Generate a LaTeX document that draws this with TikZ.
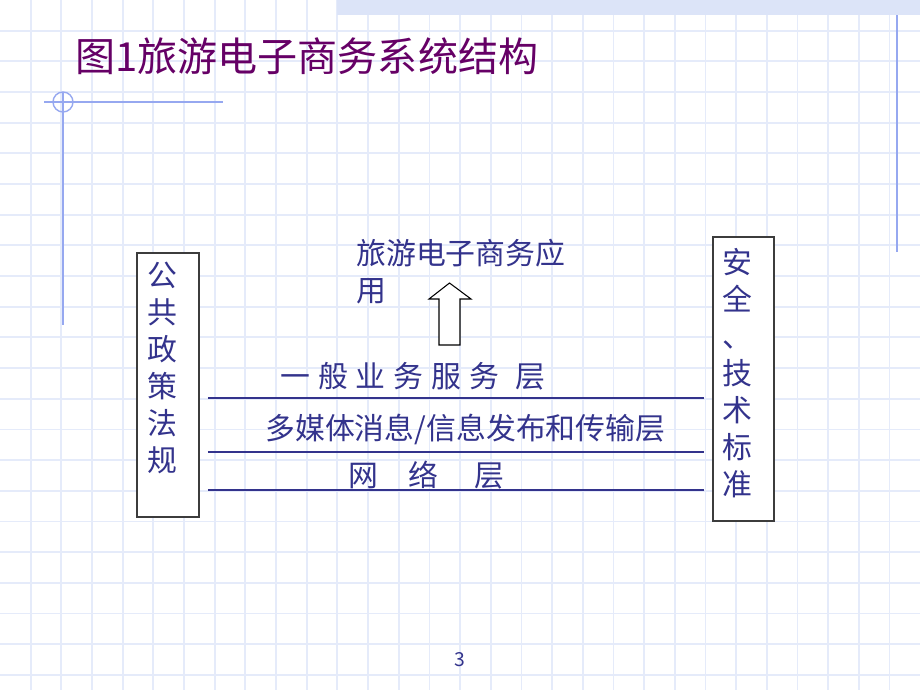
\documentclass[tikz,border=0pt]{standalone}
\usepackage{fontspec}
\newfontfamily\cjk{Noto Sans CJK SC}
\usetikzlibrary{positioning}
\definecolor{gridcolor}{RGB}{229,235,250}
\definecolor{bandcolor}{RGB}{220,228,248}
\definecolor{decocolor}{RGB}{150,168,240}
\definecolor{titlecolor}{RGB}{102,0,102}
\definecolor{layercolor}{RGB}{51,51,140}
\definecolor{boxcolor}{RGB}{60,60,60}

\begin{document}
\begin{tikzpicture}[x=0.02cm, y=-0.02cm,
    gridline/.style={gridcolor, line width=1pt},
    deco/.style={decocolor, line width=0.8pt},
    sidebox/.style={rectangle, draw=boxcolor, line width=0.9pt, fill=white},
    sidetext/.style={align=center, inner sep=0pt, text=layercolor, font=\cjk\fontsize{17pt}{21pt}\selectfont},
    layertext/.style={anchor=west, inner sep=0pt, text=layercolor, font=\cjk\fontsize{17pt}{21pt}\selectfont},
    layerline/.style={layercolor, line width=1.1pt},
    uparrow/.style={draw=black, line width=0.6pt, fill=white},
]
    % Slide background
    \useasboundingbox[fill=white] (0,0) rectangle (920,690);
    \foreach \k in {1,...,29} {
        \draw[gridline] (\k*30.67,0) -- (\k*30.67,690);
    }
    \foreach \k in {1,...,22} {
        \draw[gridline] (0,\k*30.67) -- (920,\k*30.67);
    }
    \fill[bandcolor] (337,0) rectangle (920,15);
    \draw[deco, line width=1.2pt] (897,15) -- (897,252);
    \draw[deco] (44,102) -- (223,102);
    \draw[deco] (63,92) -- (63,325);
    \draw[deco] (63,102) circle (10);

    % Title
    \node[anchor=west, inner sep=0pt, text=titlecolor, font=\cjk\fontsize{22.8pt}{26pt}\selectfont] (title) at (75,56.5) {图1旅游电子商务系统结构};

    % Side boxes
    \node[sidebox, minimum width=1.24cm, minimum height=5.28cm] (policy) at (168,385) {};
    \node[sidetext] (policytext) at (162,368) {公\\共\\政\\策\\法\\规};
    \node[sidebox, minimum width=1.22cm, minimum height=5.68cm] (standard) at (743.5,379) {};
    \node[sidetext] (standardtext) at (737,373) {安\\全\\、\\技\\术\\标\\准};

    % Application on top
    \node[anchor=west, align=left, inner sep=0pt, text=layercolor, font=\cjk\fontsize{17pt}{21pt}\selectfont] (app) at (356,271.5) {旅游电子商务应\\用};
    \draw[uparrow] (439,345) -- (439,299) -- (429,299) -- (449.5,283) -- (471,299) -- (460,299) -- (460,345) -- cycle;

    % Layers
    \node[layertext] (service) at (280,376) {一\hspace{4.5pt}般\hspace{4.5pt}业\hspace{4.5pt}务\hspace{4.5pt}服\hspace{4.5pt}务\hspace{9.5pt}层};
    \node[layertext] (media) at (265,429) {多媒体消息/信息发布和传输层};
    \node[layertext] (network) at (348,475) {网\hspace{17pt}络\hspace{21pt}层};
    \foreach \y in {398, 452, 490} {
        \draw[layerline] ([xshift=0.16cm]policy.east |- 0,\y) -- ([xshift=-0.16cm]standard.west |- 0,\y);
    }

    % Page number
    \node[text=layercolor, inner sep=0pt, font=\cjk\fontsize{11pt}{13pt}\selectfont] (pagenum) at (460,660) {3};
\end{tikzpicture}
\end{document}
